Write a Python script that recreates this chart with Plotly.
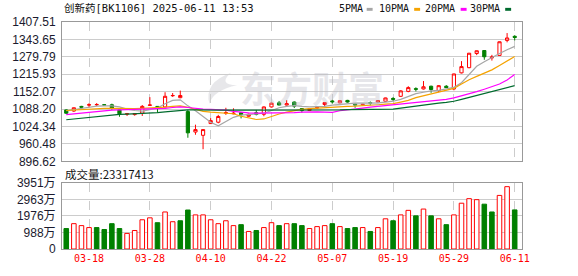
import plotly.graph_objects as go

# ---------------- data ----------------
dates = ["03-13","03-14","03-17","03-18","03-19","03-20","03-21","03-24","03-25","03-26",
         "03-27","03-28","03-31","04-01","04-02","04-03","04-07","04-08","04-09","04-10",
         "04-11","04-14","04-15","04-16","04-17","04-18","04-21","04-22","04-23","04-24",
         "04-25","04-28","04-29","04-30","05-06","05-07","05-08","05-09","05-12","05-13",
         "05-14","05-15","05-16","05-19","05-20","05-21","05-22","05-23","05-26","05-27",
         "05-28","05-29","05-30","06-03","06-04","06-05","06-06","06-09","06-10","06-11"]

opens  = [1085,1081,1098,1103,1104,1104,1104,1085,1070,1068,1073,1102,1098,1096,1137,1130,1079,1004,992,1035,
          1040,1073,1071,1075,1062,1075,1069,1096,1111,1103,1114,1090,1083,1092,1105,1118,1111,1120,1107,1104,
          1112,1114,1117,1127,1135,1153,1163,1162,1172,1156,1172,1162,1221,1240,1292,1303,1276,1285,1340,1355]
highs  = [1087,1094,1100,1110,1110,1105,1108,1086,1074,1073,1103,1132,1099,1150,1147,1156,1085,1031,1014,1055,
          1067,1093,1091,1077,1072,1085,1098,1111,1118,1121,1116,1092,1091,1098,1114,1122,1120,1122,1108,1108,
          1116,1121,1130,1132,1157,1172,1168,1191,1174,1176,1176,1218,1264,1294,1303,1304,1287,1336,1367,1359]
lows   = [1071,1078,1090,1095,1099,1102,1086,1060,1063,1064,1063,1100,1075,1095,1133,1128,983,994,941,1034,
          1036,1067,1069,1054,1060,1065,1062,1094,1102,1101,1092,1075,1081,1089,1099,1108,1109,1112,1093,1101,
          1102,1113,1115,1118,1133,1150,1153,1160,1148,1150,1166,1157,1219,1238,1286,1269,1266,1284,1333,1340]
closes = [1073,1093,1095,1104,1105,1103,1091,1071,1071,1072,1098,1103,1091,1135,1138,1138,1001,1013,1013,1046,
          1061,1075,1073,1068,1069,1069,1096,1110,1103,1108,1099,1083,1089,1094,1112,1115,1119,1114,1103,1106,
          1110,1119,1129,1124,1155,1167,1161,1170,1160,1174,1167,1217,1244,1293,1302,1280,1279,1335,1349,1351]

ma5  = [1082,1086,1090,1095,1099,1100,1100,1096,1088,1083,1081,1086,1092,1108,1120,1122,1100,1082,1060,1040,
        1027,1042,1058,1066,1068,1069,1073,1083,1093,1098,1101,1098,1096,1097,1098,1103,1106,1109,1110,1110,
        1110,1111,1114,1117,1124,1135,1145,1150,1155,1157,1163,1168,1185,1215,1245,1262,1278,1292,1306,1318]
ma10 = [1083,1085,1087,1089,1090,1091,1091,1090,1090,1090,1091,1092,1092,1095,1098,1100,1095,1088,1080,1077,
        1075,1073,1071,1062,1055,1050,1052,1062,1070,1077,1083,1087,1090,1092,1093,1094,1096,1098,1099,1100,
        1102,1104,1106,1108,1114,1120,1130,1137,1142,1150,1158,1164,1180,1196,1208,1220,1232,1248,1265,1281]
ma20 = [1068,1071,1074,1077,1080,1082,1084,1085,1086,1086,1087,1088,1089,1091,1094,1096,1094,1090,1088,1087,
        1086,1084,1080,1076,1074,1073,1073,1073,1073,1074,1075,1077,1078,1078,1077,1076,1082,1086,1089,1092,
        1095,1098,1100,1102,1106,1108,1112,1115,1118,1121,1124,1129,1136,1144,1152,1161,1170,1180,1195,1215]
ma30 = [1049,1052,1056,1059,1062,1065,1067,1069,1070,1071,1073,1074,1075,1078,1081,1084,1085,1085,1084,1084,
        1084,1084,1084,1084,1083,1083,1083,1083,1083,1083,1083,1083,1084,1084,1085,1085,1085,1086,1086,1086,
        1087,1087,1087,1088,1092,1096,1100,1104,1107,1110,1113,1117,1124,1131,1138,1145,1152,1159,1166,1174]

# volume in 万 (10k) units, and whether the bar is drawn as "up" (red hollow)
volumes = [1220,1511,1394,1278,1278,1162,1511,1220,930,1104,1743,1859,1569,2208,1627,1685,2324,2034,2034,1743,
           1511,1685,1394,1453,1046,1104,1278,1569,1394,1511,1511,1394,1220,1336,1394,1511,1336,1220,1278,1278,
           1046,1278,1801,1685,2034,2305,1976,2382,1976,1801,1453,2034,2731,3002,2944,2673,2208,3196,3718,2332]
vol_up = [0,1,1,1,0,0,0,0,1,1,1,1,0,1,1,0,0,1,1,1,
          1,1,1,0,1,0,1,1,0,1,0,0,1,1,1,0,1,0,0,1,
          0,1,1,0,1,1,0,1,0,1,0,1,1,1,1,0,0,1,1,0]

price_ticks = ["896.62","960.48","1024.34","1088.20","1152.07","1215.93","1279.79","1343.65","1407.51"]
vol_tickvals = [0, 987.75, 1975.5, 2963.25, 3951]
vol_ticktext = ["0", "988万", "1976万", "2963万", "3951万"]
date_ticks = ["03-18","03-28","04-10","04-22","05-07","05-19","05-29","06-11"]

title_text = "创新药[BK1106] 2025-06-11 13:53"
vol_title = "成交量:23317413"
ma_names = ["5PMA", "10PMA", "20PMA", "30PMA"]
ma_colors = ["#a6a6a6", "#f5a300", "#ff00ff", "#006b2e"]

# ---------------- layout geometry ----------------
W, H = 578, 276
L, R, T, B = 57, 56, 22, 21
PW, PH = W - L - R, H - T - B

def px(x):
    return (x - L) / PW

def py(y):
    return (H - B - y) / PH

UP, DOWN = "#ff0000", "#008000"

fig = go.Figure()

fig.add_trace(go.Candlestick(
    x=dates, open=opens, high=highs, low=lows, close=closes,
    increasing=dict(line=dict(color=UP, width=1), fillcolor="#ffffff"),
    decreasing=dict(line=dict(color=DOWN, width=1), fillcolor=DOWN),
    whiskerwidth=0, xaxis="x", yaxis="y", showlegend=False, hoverinfo="skip"))

for vals, color in zip([ma5, ma10, ma20, ma30], ma_colors):
    fig.add_trace(go.Scatter(x=dates, y=vals, mode="lines",
                             line=dict(color=color, width=1.2),
                             xaxis="x", yaxis="y", showlegend=False, hoverinfo="skip"))

fig.add_trace(go.Bar(
    x=dates, y=volumes, width=0.6,
    marker=dict(color=["#ffffff" if u else DOWN for u in vol_up],
                line=dict(color=[UP if u else DOWN for u in vol_up], width=1)),
    xaxis="x2", yaxis="y2", showlegend=False, hoverinfo="skip"))

xr = [-0.56, len(dates) - 1 + 0.96]
common_x = dict(type="category", categoryorder="array", categoryarray=dates, range=xr,
                tickmode="array", tickvals=date_ticks, showgrid=True, gridcolor="#cccccc",
                griddash="dash", gridwidth=1, showline=True, mirror=True, linecolor="#999999",
                linewidth=1, ticks="", zeroline=False, fixedrange=True)

grid_y = dict(showgrid=True, gridcolor="#cccccc", gridwidth=1, showline=True, mirror=True,
              linecolor="#999999", linewidth=1, ticks="", zeroline=False, fixedrange=True,
              tickfont=dict(family="Arial, Liberation Sans, Noto Sans CJK SC", size=12, color="#1a1a2e"),
              ticklabelstandoff=3)

fig.update_layout(
    width=W, height=H, margin=dict(l=L, r=R, t=T, b=B),
    paper_bgcolor="#ffffff", plot_bgcolor="#ffffff", boxgap=0.4,
    bargap=0.3, showlegend=False,
    xaxis=dict(**common_x, anchor="y", showticklabels=False, rangeslider=dict(visible=False)),
    yaxis=dict(**grid_y, domain=[py(165), 1.0], range=[float(price_ticks[0]), float(price_ticks[-1])],
               tickmode="array", tickvals=[float(t) for t in price_ticks], ticktext=price_ticks),
    xaxis2=dict(**common_x, anchor="y2", showticklabels=True,
                tickfont=dict(family="DejaVu Sans Mono", size=10, color="#ff0000")),
    yaxis2=dict(**grid_y, domain=[0.0, py(187)], range=[0, 3951],
                tickmode="array", tickvals=vol_tickvals, ticktext=vol_ticktext),
)

annotations = []
# watermark
annotations.append(dict(text="<b>东方财富</b>", xref="paper", yref="paper", x=px(310), y=py(89),
                        xanchor="center", yanchor="middle", showarrow=False,
                        font=dict(family="Noto Sans CJK SC", size=36, color="rgba(185,185,195,0.35)")))
# title
annotations.append(dict(text=title_text, xref="paper", yref="paper", x=0, y=py(8),
                        xanchor="left", yanchor="middle", showarrow=False,
                        font=dict(family="DejaVu Sans Mono, Noto Sans CJK SC", size=10.5, color="#111111")))
# volume title
annotations.append(dict(text=vol_title, xref="paper", yref="paper", x=px(58), y=py(178),
                        xanchor="left", yanchor="middle", showarrow=False,
                        font=dict(family="Noto Sans CJK SC, DejaVu Sans Mono", size=11.5, color="#111111")))
# MA legend
legend_text_right = [363, 410, 456, 502]
legend_sq_left = [365, 413, 460, 505]
shapes = []
for name, xr_, xs, c in zip(ma_names, legend_text_right, legend_sq_left, ma_colors):
    annotations.append(dict(text=name, xref="paper", yref="paper", x=px(xr_), y=py(8.5),
                            xanchor="right", yanchor="middle", showarrow=False,
                            font=dict(family="DejaVu Sans Mono", size=10, color="#111111")))
    shapes.append(dict(type="rect", xref="paper", yref="paper", x0=px(xs), x1=px(xs + 6),
                       y0=py(10.5), y1=py(7.5), fillcolor=c, line=dict(width=0)))

# watermark logo (faint decorative swirl)
def p(x, y):
    return f"{px(x):.4f},{py(y):.4f}"
logo = (f"M {p(228,74)} Q {p(200,84)} {p(206,106)} Q {p(210,92)} {p(234,87)} "
        f"Q {p(214,86)} {p(228,74)} Z")
shapes.append(dict(type="path", xref="paper", yref="paper", path=logo,
                   fillcolor="rgba(185,185,195,0.35)", line=dict(width=0), layer="below"))

fig.update_layout(annotations=annotations, shapes=shapes)

fig.write_html("out.html")
